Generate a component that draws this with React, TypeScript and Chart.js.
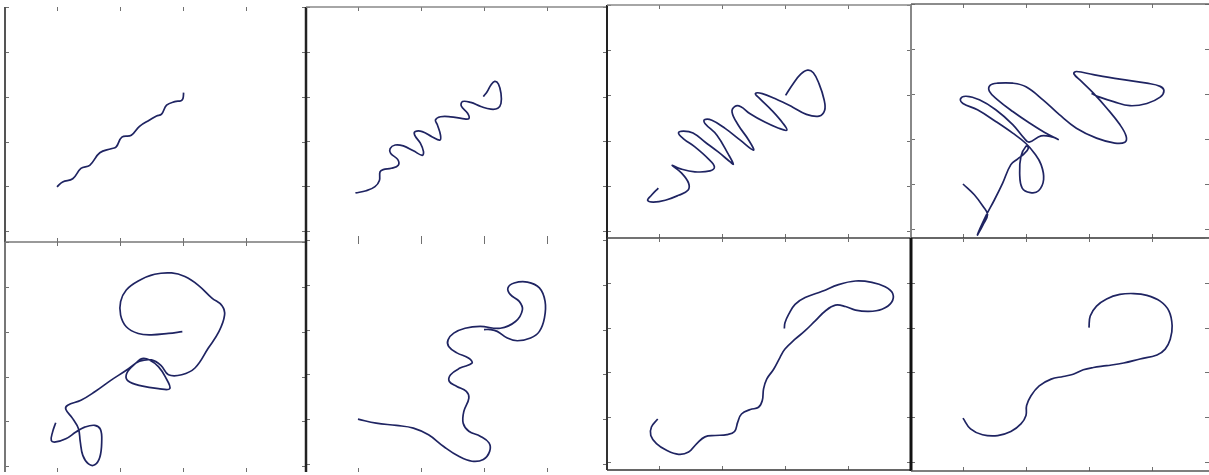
import React, { useEffect, useRef } from "react";
import { Chart, registerables } from "chart.js";

Chart.register(...registerables);

const xTickValues = [1, 2, 3, 4];
const yTickValues = [0, 1, 2, 3, 4, 5];

// Panel 1
const p1x = [1.0, 1.09, 1.25, 1.38, 1.52, 1.68, 1.86, 1.94, 2.03, 2.18, 2.31, 2.47, 2.58, 2.66, 2.74, 2.87, 2.97, 3.0, 3.01];
const p1y = [0.99, 1.1, 1.17, 1.4, 1.47, 1.75, 1.84, 1.88, 2.1, 2.14, 2.34, 2.48, 2.57, 2.61, 2.81, 2.89, 2.91, 2.96, 3.09];

// Panel 2
const p2x = [0.96, 1.13, 1.27, 1.34, 1.35, 1.4, 1.53, 1.64, 1.63, 1.52, 1.51, 1.59, 1.72, 1.88, 2.02, 2.04, 1.99, 1.9, 1.91, 2.02, 2.18, 2.3, 2.31, 2.26, 2.23, 2.31, 2.47, 2.66, 2.76, 2.74, 2.64, 2.66, 2.79, 2.95, 3.11, 3.22, 3.27, 3.27, 3.23, 3.17, 3.11, 3.05, 2.99];
const p2y = [0.85, 0.9, 0.99, 1.13, 1.32, 1.37, 1.4, 1.47, 1.6, 1.73, 1.84, 1.92, 1.9, 1.79, 1.69, 1.77, 1.96, 2.14, 2.22, 2.22, 2.1, 2.03, 2.14, 2.37, 2.48, 2.55, 2.55, 2.51, 2.51, 2.63, 2.79, 2.89, 2.87, 2.78, 2.72, 2.74, 2.85, 3.07, 3.28, 3.34, 3.26, 3.11, 3.0];

// Panel 3
const p3x = [0.99, 0.88, 0.82, 0.91, 1.1, 1.31, 1.46, 1.47, 1.36, 1.21, 1.33, 1.57, 1.81, 1.88, 1.78, 1.57, 1.39, 1.31, 1.39, 1.54, 1.73, 1.94, 2.13, 2.18, 2.1, 1.92, 1.73, 1.72, 1.84, 2.05, 2.29, 2.5, 2.42, 2.26, 2.16, 2.21, 2.3, 2.44, 2.68, 2.89, 3.03, 2.97, 2.79, 2.6, 2.53, 2.64, 2.84, 3.11, 3.34, 3.54, 3.63, 3.62, 3.54, 3.45, 3.36, 3.25, 3.13, 3.01];
const p3y = [0.95, 0.79, 0.68, 0.64, 0.68, 0.79, 0.9, 1.06, 1.28, 1.45, 1.38, 1.31, 1.33, 1.42, 1.6, 1.86, 2.04, 2.17, 2.21, 2.17, 1.97, 1.75, 1.53, 1.48, 1.7, 2.12, 2.38, 2.46, 2.45, 2.27, 2.01, 1.79, 2.02, 2.34, 2.63, 2.76, 2.75, 2.6, 2.41, 2.28, 2.23, 2.38, 2.67, 2.93, 3.04, 3.04, 2.93, 2.75, 2.58, 2.54, 2.67, 2.91, 3.26, 3.5, 3.56, 3.47, 3.26, 3.0];

// Panel 4
const p4x = [1.0, 1.18, 1.32, 1.39, 1.32, 1.23, 1.36, 1.5, 1.63, 1.76, 1.87, 1.97, 2.04, 2.0, 1.92, 1.9, 1.94, 2.07, 2.2, 2.28, 2.24, 2.13, 2.0, 1.79, 1.52, 1.23, 1.0, 0.96, 1.05, 1.26, 1.52, 1.79, 1.97, 2.05, 2.24, 2.43, 2.51, 2.29, 2.05, 1.79, 1.55, 1.42, 1.43, 1.55, 1.79, 2.0, 2.27, 2.53, 2.8, 3.12, 3.41, 3.57, 3.59, 3.49, 3.28, 3.07, 2.88, 2.76, 2.8, 3.07, 3.49, 3.92, 4.13, 4.19, 4.13, 3.92, 3.65, 3.39, 3.17, 3.04];
const p4y = [1.0, 0.76, 0.5, 0.32, 0.1, -0.13, 0.28, 0.65, 1.02, 1.43, 1.56, 1.67, 1.8, 1.84, 1.61, 1.24, 0.91, 0.81, 0.85, 1.1, 1.43, 1.69, 1.9, 2.13, 2.39, 2.65, 2.79, 2.89, 2.95, 2.87, 2.65, 2.32, 2.02, 1.93, 2.07, 2.04, 1.99, 2.15, 2.36, 2.61, 2.87, 3.06, 3.19, 3.24, 3.24, 3.16, 2.87, 2.54, 2.24, 2.02, 1.91, 1.93, 2.06, 2.32, 2.69, 3.02, 3.28, 3.45, 3.5, 3.43, 3.33, 3.24, 3.17, 3.07, 2.93, 2.79, 2.74, 2.83, 2.93, 3.01];

// Panel 5
const p5x = [0.98, 0.93, 0.91, 0.98, 1.14, 1.3, 1.44, 1.6, 1.69, 1.71, 1.68, 1.6, 1.5, 1.41, 1.37, 1.34, 1.25, 1.14, 1.17, 1.38, 1.6, 1.86, 2.1, 2.26, 2.35, 2.47, 2.61, 2.72, 2.79, 2.61, 2.34, 2.13, 2.1, 2.19, 2.31, 2.5, 2.65, 2.77, 2.98, 3.19, 3.4, 3.57, 3.66, 3.62, 3.46, 3.24, 3.03, 2.82, 2.55, 2.29, 2.1, 2.01, 2.01, 2.1, 2.29, 2.5, 2.77, 2.99];
const p5y = [0.97, 0.76, 0.57, 0.54, 0.61, 0.76, 0.87, 0.91, 0.82, 0.54, 0.2, 0.03, 0.05, 0.24, 0.54, 0.84, 1.06, 1.27, 1.36, 1.47, 1.66, 1.92, 2.14, 2.31, 2.4, 2.37, 2.22, 1.99, 1.73, 1.73, 1.79, 1.9, 2.04, 2.22, 2.34, 2.37, 2.25, 2.04, 2.04, 2.19, 2.63, 3.0, 3.37, 3.58, 3.75, 4.04, 4.23, 4.31, 4.28, 4.13, 3.93, 3.67, 3.37, 3.11, 2.96, 2.93, 2.96, 3.0];

// Panel 6
const p6x = [1.0, 1.29, 1.61, 1.88, 2.12, 2.36, 2.6, 2.81, 2.99, 3.09, 3.08, 2.94, 2.76, 2.67, 2.68, 2.76, 2.72, 2.57, 2.45, 2.47, 2.62, 2.81, 2.76, 2.57, 2.44, 2.43, 2.52, 2.7, 2.94, 3.26, 3.5, 3.61, 3.56, 3.42, 3.38, 3.48, 3.69, 3.88, 3.97, 3.96, 3.88, 3.74, 3.53, 3.37, 3.21, 3.1, 3.0];
const p6y = [1.0, 0.91, 0.86, 0.8, 0.65, 0.39, 0.17, 0.06, 0.1, 0.28, 0.47, 0.62, 0.73, 0.91, 1.17, 1.47, 1.62, 1.73, 1.84, 1.99, 2.14, 2.25, 2.36, 2.48, 2.62, 2.77, 2.92, 3.03, 3.07, 3.03, 3.18, 3.44, 3.63, 3.78, 3.93, 4.04, 4.06, 3.93, 3.63, 3.26, 2.96, 2.81, 2.75, 2.81, 2.96, 3.0, 3.0];

// Panel 7
const p7x = [0.98, 0.88, 0.87, 0.96, 1.12, 1.31, 1.47, 1.6, 1.73, 1.89, 2.08, 2.2, 2.25, 2.31, 2.45, 2.58, 2.64, 2.66, 2.71, 2.82, 2.92, 3.0, 3.16, 3.32, 3.48, 3.64, 3.8, 3.96, 4.12, 4.33, 4.54, 4.69, 4.71, 4.59, 4.38, 4.12, 3.85, 3.59, 3.32, 3.16, 3.06, 3.0, 2.99];
const p7y = [0.96, 0.78, 0.59, 0.41, 0.26, 0.17, 0.22, 0.41, 0.56, 0.59, 0.61, 0.68, 0.89, 1.07, 1.17, 1.22, 1.37, 1.63, 1.85, 2.07, 2.33, 2.52, 2.74, 2.93, 3.15, 3.37, 3.5, 3.47, 3.39, 3.36, 3.41, 3.56, 3.76, 3.91, 4.01, 4.04, 3.96, 3.81, 3.67, 3.52, 3.3, 3.11, 2.98];

// Panel 8
const p8x = [1.0, 1.12, 1.31, 1.55, 1.76, 1.92, 2.0, 2.01, 2.08, 2.21, 2.4, 2.59, 2.75, 2.91, 3.07, 3.28, 3.55, 3.81, 4.08, 4.21, 4.29, 4.32, 4.27, 4.13, 3.92, 3.71, 3.49, 3.28, 3.12, 3.02, 3.0];
const p8y = [0.98, 0.74, 0.61, 0.59, 0.68, 0.85, 1.04, 1.26, 1.48, 1.7, 1.85, 1.91, 1.96, 2.06, 2.11, 2.15, 2.21, 2.3, 2.39, 2.52, 2.74, 3.04, 3.37, 3.59, 3.72, 3.76, 3.74, 3.64, 3.48, 3.26, 3.0];

type Border = { side: "l" | "t" | "r" | "b"; color: string; width: number };
type PanelSpec = {
  left: number;
  top: number;
  width: number;
  height: number;
  yMin: number;
  xs: number[];
  ys: number[];
  borders: Border[];
};

const PAD = 4;
const X_MIN = 0.175;
const X_UNIT = 63;

const panels: PanelSpec[] = [
  { left: 5, top: 7, width: 301, height: 235, yMin: -0.24, xs: p1x, ys: p1y,
    borders: [{ side: "l", color: "#555", width: 2 }, { side: "b", color: "#777", width: 1.5 }] },
  { left: 306, top: 7, width: 301, height: 233, yMin: -0.2, xs: p2x, ys: p2y,
    borders: [{ side: "l", color: "#222", width: 2.5 }, { side: "t", color: "#888", width: 1.5 }] },
  { left: 607, top: 5, width: 304, height: 233, yMin: -0.155, xs: p3x, ys: p3y,
    borders: [{ side: "l", color: "#222", width: 2 }, { side: "t", color: "#888", width: 1.5 }, { side: "b", color: "#444", width: 1.5 }] },
  { left: 911, top: 4, width: 298, height: 234, yMin: -0.2, xs: p4x, ys: p4y,
    borders: [{ side: "l", color: "#888", width: 2 }, { side: "t", color: "#666", width: 1.5 }, { side: "b", color: "#333", width: 1.5 }] },
  { left: 5, top: 242, width: 301, height: 230, yMin: -0.13, xs: p5x, ys: p5y,
    borders: [{ side: "l", color: "#777", width: 2 }] },
  { left: 306, top: 240, width: 301, height: 232, yMin: -0.18, xs: p6x, ys: p6y,
    borders: [{ side: "l", color: "#222", width: 2.5 }] },
  { left: 607, top: 238, width: 304, height: 232, yMin: -0.18, xs: p7x, ys: p7y,
    borders: [{ side: "l", color: "#333", width: 2 }, { side: "b", color: "#333", width: 1.5 }] },
  { left: 911, top: 238, width: 298, height: 233, yMin: -0.2, xs: p8x, ys: p8y,
    borders: [{ side: "l", color: "#111", width: 3 }, { side: "b", color: "#555", width: 1.5 }] },
];

function Panel({ spec }: { spec: PanelSpec }) {
  const ref = useRef<HTMLCanvasElement>(null);
  useEffect(() => {
    if (!ref.current) return;
    const xMax = X_MIN + spec.width / X_UNIT;
    const framePlugin = {
      id: "frame",
      afterDatasetsDraw(chart: any) {
        const { ctx, chartArea: a, scales } = chart;
        const sx = scales.x;
        const sy = scales.y;
        ctx.save();
        ctx.strokeStyle = "#707070";
        ctx.lineWidth = 1;
        const TL = 4;
        for (const v of xTickValues) {
          const px = Math.round(sx.getPixelForValue(v)) + 0.5;
          ctx.beginPath();
          ctx.moveTo(px, a.bottom);
          ctx.lineTo(px, a.bottom - TL);
          ctx.moveTo(px, a.top);
          ctx.lineTo(px, a.top + TL);
          ctx.stroke();
        }
        for (const v of yTickValues) {
          const py = Math.round(sy.getPixelForValue(v)) + 0.5;
          ctx.beginPath();
          ctx.moveTo(a.left, py);
          ctx.lineTo(a.left + TL, py);
          ctx.moveTo(a.right, py);
          ctx.lineTo(a.right - TL, py);
          ctx.stroke();
        }
        for (const b of spec.borders) {
          ctx.strokeStyle = b.color;
          ctx.lineWidth = b.width;
          ctx.beginPath();
          if (b.side === "l") { ctx.moveTo(a.left, a.top); ctx.lineTo(a.left, a.bottom); }
          if (b.side === "r") { ctx.moveTo(a.right, a.top); ctx.lineTo(a.right, a.bottom); }
          if (b.side === "t") { ctx.moveTo(a.left, a.top); ctx.lineTo(a.right, a.top); }
          if (b.side === "b") { ctx.moveTo(a.left, a.bottom); ctx.lineTo(a.right, a.bottom); }
          ctx.stroke();
        }
        ctx.restore();
      },
    };
    const chart = new Chart(ref.current, {
      type: "line",
      data: {
        datasets: [
          {
            data: spec.xs.map((x, i) => ({ x, y: spec.ys[i] })),
            borderColor: "#1f2462",
            borderWidth: 1.7,
            pointRadius: 0,
            tension: 0.4,
            fill: false,
          },
        ],
      },
      options: {
        animation: false,
        responsive: false,
        maintainAspectRatio: false,
        events: [],
        layout: { padding: PAD },
        plugins: { legend: { display: false }, tooltip: { enabled: false } },
        scales: {
          x: { type: "linear", display: false, min: X_MIN, max: xMax },
          y: { type: "linear", display: false, min: spec.yMin, max: 5 },
        },
      },
      plugins: [framePlugin],
    } as any);
    return () => chart.destroy();
  }, [spec]);
  const w = spec.width + 2 * PAD;
  const h = spec.height + 2 * PAD;
  return (
    <canvas
      ref={ref}
      width={w}
      height={h}
      style={{ position: "absolute", left: spec.left - PAD, top: spec.top - PAD, width: w, height: h }}
    />
  );
}

export default function App() {
  return (
    <div style={{ position: "absolute", left: 0, top: 0, width: 1209, height: 475, background: "#fff", overflow: "hidden" }}>
      {panels.map((p, i) => (
        <Panel key={i} spec={p} />
      ))}
    </div>
  );
}
